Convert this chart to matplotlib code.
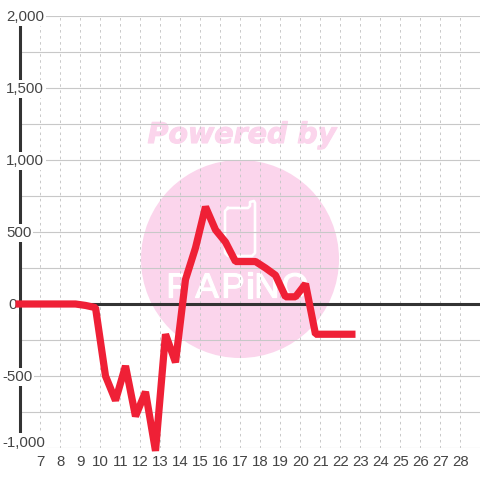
import matplotlib
matplotlib.use("Agg")
import matplotlib.pyplot as plt
import matplotlib.patheffects as pe
from matplotlib.patches import Circle

hours = [5.75, 6.25, 6.75, 7.25, 7.75, 8.25, 8.75, 9.25, 9.75, 10.25, 10.75, 11.25,
         11.75, 12.25, 12.75, 13.25, 13.75, 14.25, 14.75, 15.25, 15.75, 16.25, 16.75,
         17.25, 17.75, 18.25, 18.75, 19.25, 19.75, 20.25, 20.75, 21.25, 21.75, 22.25, 22.75]
values = [0, 0, 0, 0, 0, 0, 0, -10, -25, -500, -670, -430,
          -780, -610, -1020, -210, -405, 170, 390, 675, 515, 430, 295,
          295, 295, 250, 200, 50, 50, 140, -210, -210, -210, -210, -210]
x_ticks = list(range(7, 29))
y_major = [-1000, -500, 0, 500, 1000, 1500, 2000]
y_minor = [-750, -250, 250, 750, 1250, 1750]
y_labels = ["-1,000", "-500", "0", "500", "1,000", "1,500", "2,000"]

plt.rcParams["font.family"] = ["Liberation Sans", "DejaVu Sans"]
text_col = "#444444"
grid_col = "#c8c8c8"
pink = "#fbd5ec"

fig = plt.figure(figsize=(4.8, 4.8), dpi=100, facecolor="white")

# watermark goes behind everything, in pixel coordinates
bg = fig.add_axes([0, 0, 1, 1], zorder=0)
bg.set_xlim(0, 480)
bg.set_ylim(480, 0)
bg.axis("off")
bg.add_patch(Circle((240, 259), 99, color=pink, lw=0))
t = bg.text(242, 135, "Powered by", color=pink, fontsize=20.5, fontweight="bold",
            fontstyle="italic", family="DejaVu Sans", ha="center", va="center")
t.set_path_effects([pe.withStroke(linewidth=0.8, foreground=pink)])

# phone shape of the logo
bg.plot([228, 248, 250, 250, 254, 255, 255, 252, 228, 225, 225, 228],
        [208, 208, 206, 202, 201, 203, 253, 256, 256, 253, 211, 208],
        color="white", lw=1.9, solid_joinstyle="round")
for cx, ch in zip([178, 207, 233, 250, 267, 295], "PAPiNO"):
    lt = bg.text(cx, 288, ch, color="white", fontsize=25, ha="center", va="center")
    lt.set_path_effects([pe.withStroke(linewidth=0.9, foreground="white")])

# plot area: 20.5..480 px wide, 16..448 px high
ax = fig.add_axes([20.5 / 480, 32 / 480, 459.5 / 480, 432 / 480], zorder=1)
ax.patch.set_alpha(0)
ax.set_xlim(6, 28.975)
ax.set_ylim(-1000, 2000)
for s in ax.spines.values():
    s.set_visible(False)

ax.hlines(y_major + y_minor, 6, 28.975, color=grid_col, lw=0.8, zorder=1)
ax.vlines(x_ticks, -1000, 2000, color=grid_col, lw=0.7, linestyles=(0, (2.6, 3.6)), zorder=1)
ax.axvline(6, color="#333333", lw=2.2, zorder=2, clip_on=False)
ax.axhline(0, color="#333333", lw=2.2, zorder=2)

ax.set_xticks(x_ticks)
ax.set_xticklabels([str(t) for t in x_ticks])
ax.set_yticks([])
ax.tick_params(axis="x", length=0, pad=5.3, labelsize=10.8, labelcolor=text_col)

# y labels sit on top of the axis line with a white box behind them
for v, lab in zip(y_major, y_labels):
    left = 2 if v < 0 else (8 if v == 0 else 6)
    y = v + 38 if v == -1000 else v - 7
    ax.text((left - 20.5) / 459.5, y, lab, transform=ax.get_yaxis_transform(),
            ha="left", va="center", fontsize=10.8, color=text_col, zorder=3,
            bbox=dict(fc="white", ec="none", pad=1.5), clip_on=False)

ax.plot(hours, values, color="#ef2036", lw=5.2, solid_joinstyle="bevel",
        solid_capstyle="butt", zorder=4, clip_on=False)

fig.savefig("out.png", dpi=100)
